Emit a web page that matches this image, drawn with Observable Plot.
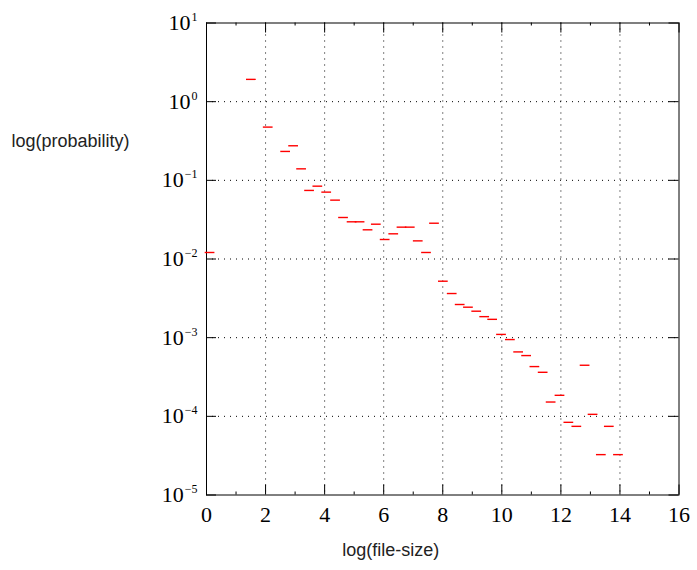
<!DOCTYPE html>
<html>
<head>
<meta charset="utf-8">
<script src="https://cdn.jsdelivr.net/npm/d3@7"></script>
<script src="https://cdn.jsdelivr.net/npm/@observablehq/plot@0.6"></script>
<style>
  html, body { margin: 0; padding: 0; background: #fff; }
</style>
</head>
<body>
<div id="chart"></div>
<script>
// bin centres on log(file-size)
const xCenters = [0.12, 1.52, 2.09, 2.68, 2.95, 3.22, 3.49, 3.77, 4.07, 4.37, 4.64, 4.93, 5.20, 5.47, 5.75, 6.05, 6.34, 6.62, 6.90, 7.17, 7.45, 7.72, 8.02, 8.32, 8.59, 8.87, 9.15, 9.42, 9.69, 9.99, 10.29, 10.57, 10.84, 11.12, 11.40, 11.67, 11.97, 12.27, 12.54, 12.82, 13.09, 13.37, 13.64, 13.95];
// probability per bin
const probs = [0.0121, 1.92, 0.475, 0.233, 0.275, 0.140, 0.0744, 0.0843, 0.0708, 0.056, 0.0337, 0.0297, 0.0297, 0.0235, 0.0277, 0.0177, 0.0209, 0.0254, 0.0254, 0.017, 0.0121, 0.0285, 0.00522, 0.00364, 0.00264, 0.00244, 0.00217, 0.00185, 0.00171, 0.0011, 0.000946, 0.000659, 0.000592, 0.000429, 0.000363, 0.000152, 0.000185, 0.0000839, 0.0000746, 0.000446, 0.000106, 0.0000326, 0.0000746, 0.0000326];

const xMajorTicks = [0, 2, 4, 6, 8, 10, 12, 14, 16];
const xMinorTicks = [1, 3, 5, 7, 9, 11, 13, 15];
const xGrid = [2, 4, 6, 8, 10, 12, 14];
const yTicks = [1e-5, 1e-4, 1e-3, 1e-2, 1e-1, 1, 10];
const yGrid = [1e-4, 1e-3, 1e-2, 1e-1, 1];
const xTitle = "log(file-size)";
const yTitle = "log(probability)";

const data = xCenters.map((x, i) => ({x, p: probs[i]}));

const W = 697, H = 570;
const mL = 206, mR = 18.5, mT = 22.5, mB = 75.5;
const fW = W - mL - mR, fH = H - mT - mB;
const HALF = 0.165;

const plot = Plot.plot({
  width: W,
  height: H,
  marginLeft: mL,
  marginRight: mR,
  marginTop: mT,
  marginBottom: mB,
  style: {fontFamily: "Liberation Serif", fontSize: "22px", color: "#000", background: "#fff"},
  x: {domain: [0, 16]},
  y: {type: "log", domain: [1e-5, 10]},
  marks: [
    Plot.ruleX(xGrid, {x: d => d, stroke: "#000", strokeDasharray: "1,5", strokeWidth: 1}),
    Plot.ruleY(yGrid, {y: d => d, stroke: "#000", strokeDasharray: "1,5", strokeWidth: 1}),
    Plot.ruleX(xMajorTicks, {x: d => d, insetTop: fH - 10, stroke: "#000"}),
    Plot.ruleX(xMajorTicks, {x: d => d, insetBottom: fH - 10, stroke: "#000"}),
    Plot.ruleX(xMinorTicks, {x: d => d, insetTop: fH - 3, stroke: "#000"}),
    Plot.ruleX(xMinorTicks, {x: d => d, insetBottom: fH - 3, stroke: "#000"}),
    Plot.ruleY(yTicks, {y: d => d, insetRight: fW - 10, stroke: "#000"}),
    Plot.ruleY(yTicks, {y: d => d, insetLeft: fW - 10, stroke: "#000"}),
    Plot.frame({stroke: "#000", strokeWidth: 1}),
    Plot.ruleY(data, {x1: d => d.x - HALF, x2: d => d.x + HALF, y: "p", stroke: "#ff0000", strokeWidth: 1.4}),
    Plot.axisX({ticks: xMajorTicks, tickSize: 0, tickPadding: 11, tickFormat: d => String(d), label: null}),
    Plot.axisY({ticks: yTicks, tickSize: 0, tickPadding: 9, tickFormat: d => String(Math.round(Math.log10(d))), label: null}),
    Plot.text([yTitle], {frameAnchor: "top-left", lineAnchor: "middle", dx: 70 - mL, dy: 118.7, text: d => d, textAnchor: "middle", fontFamily: "Liberation Sans", fontSize: 18, fill: "#222"}),
    Plot.text([xTitle], {frameAnchor: "bottom", lineAnchor: "middle", dx: -52, dy: 55.5, text: d => d, textAnchor: "middle", fontFamily: "Liberation Sans", fontSize: 18, fill: "#222"})
  ]
});

// superscript exponents on the y tick labels
plot.querySelectorAll('g[aria-label="y-axis tick label"] text').forEach(t => {
  const e = t.textContent.trim().replace("-", "−").replace("\u2212", "−");
  t.textContent = "10";
  const ts = document.createElementNS("http://www.w3.org/2000/svg", "tspan");
  ts.setAttribute("dy", "-9");
  ts.setAttribute("dx", "1");
  ts.setAttribute("font-size", "12");
  ts.textContent = e;
  t.appendChild(ts);
});

document.getElementById("chart").appendChild(plot);
</script>
</body>
</html>
